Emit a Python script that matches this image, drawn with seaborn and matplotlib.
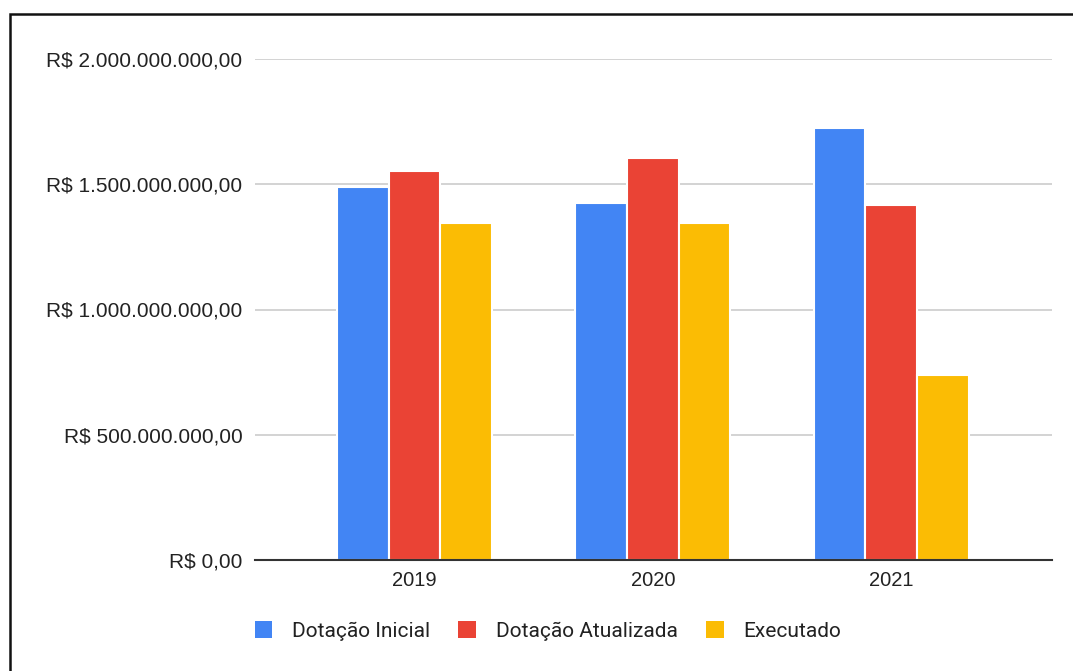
import seaborn as sns
import matplotlib.pyplot as plt
import pandas as pd
from matplotlib.patches import Rectangle
from matplotlib.ticker import FuncFormatter

anos = ['2019', '2020', '2021']
series = ['Dotação Inicial', 'Dotação Atualizada', 'Executado']
dotacao_inicial = [1.489e9, 1.425e9, 1.725e9]
dotacao_atualizada = [1.553e9, 1.605e9, 1.417e9]
executado = [1.345e9, 1.345e9, 0.739e9]
cores = ['#4285F4', '#EA4335', '#FBBC04']

df = pd.DataFrame({
    'ano': anos * 3,
    'serie': [s for s in series for _ in anos],
    'valor': dotacao_inicial + dotacao_atualizada + executado,
})

sns.set_style('white')
plt.rcParams['font.family'] = ['Liberation Sans', 'DejaVu Sans']

fig = plt.figure(figsize=(10.73, 6.71), dpi=100)
ax = fig.add_axes([255/1073, 1-560/671, (1052-255)/1073, (560-59)/671])

sns.barplot(data=df, x='ano', y='valor', hue='serie', palette=cores,
            saturation=1, width=0.65, edgecolor='white', linewidth=1.5,
            ax=ax)

ax.set_ylim(0, 2e9)
ax.set_xlim(-0.67, 2.675)
ax.set_yticks([0, 5e8, 1e9, 1.5e9, 2e9])


def brl(v, pos):
    s = f'{v:,.2f}'.replace(',', 'X').replace('.', ',').replace('X', '.')
    return 'R$ ' + s


ax.yaxis.set_major_formatter(FuncFormatter(brl))
ax.yaxis.grid(True, color='#cccccc', linewidth=1.2)
ax.set_axisbelow(True)
for s in ['top', 'right', 'left']:
    ax.spines[s].set_visible(False)
ax.spines['bottom'].set_color('#333333')
ax.spines['bottom'].set_linewidth(1.5)
ax.tick_params(axis='y', length=0, pad=9, labelsize=15, labelcolor='#222222')
ax.tick_params(axis='x', length=0, pad=8, labelsize=14.5, labelcolor='#222222')
ax.set_xlabel(None)
ax.set_ylabel(None)

ax.legend_.remove()
handles = [Rectangle((0, 0), 1, 1, facecolor=c, edgecolor='none') for c in cores]
fig.legend(handles, series, loc='center', bbox_to_anchor=(548/1073, 1-631/671),
           ncol=3, frameon=False, prop={'family': 'Roboto', 'size': 15},
           handlelength=0.85, handleheight=0.85, handletextpad=0.95,
           columnspacing=1.35, labelcolor='#222222')

fig.patches.append(Rectangle((10/1073, -0.1), 1.2, 1 - 14/671 + 0.1,
                             transform=fig.transFigure, fill=False,
                             edgecolor='#111111', linewidth=1.8))

fig.savefig('out.png', dpi=100)
